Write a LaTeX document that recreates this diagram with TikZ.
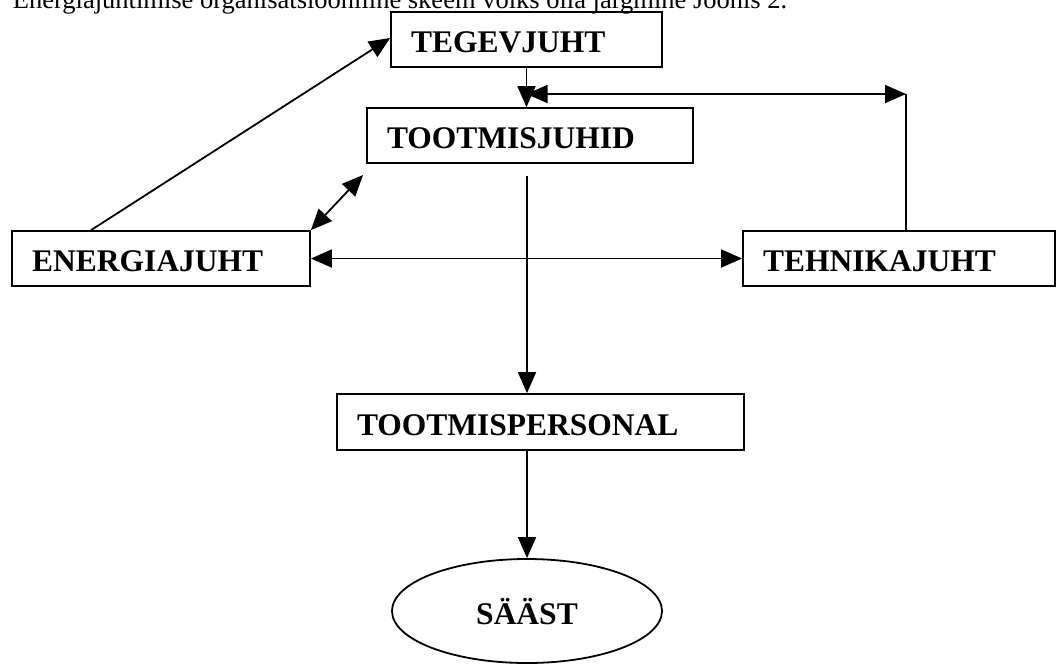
\documentclass[tikz,border=0pt]{standalone}
\usepackage{fontspec}
\setmainfont{Liberation Serif}
\usetikzlibrary{arrows.meta,shapes.geometric,calc}
\begin{document}
\begin{tikzpicture}[x=1pt,y=-1pt, line width=1.8pt,
  tip/.style={-{Triangle[length=21pt,width=18pt]}},
  dtip/.style={{Triangle[length=21pt,width=18pt]}-{Triangle[length=21pt,width=18pt]}},
  box/.style={draw, line width=1.8pt, rectangle, align=left, inner xsep=20pt, inner ysep=0pt,
    font=\fontsize{31.5}{36}\selectfont\bfseries, text height=26pt, text depth=0pt},
  oval/.style={draw, line width=1.8pt, ellipse, inner sep=0pt,
    font=\fontsize{31.5}{36}\selectfont\bfseries, text height=26pt, text depth=0pt}]
\useasboundingbox (0,0) rectangle (1056,664);
\node[anchor=base west, font=\fontsize{26.5}{30}\selectfont, inner sep=0pt] (cap) at (12,8)
  {Energiajuhtimise organisatsiooniline skeem võiks olla järgmine Joonis 2.};
\node[box, text width=231pt, minimum height=55pt] (teg) at (526.5,39.5) {TEGEVJUHT};
\node[box, text width=286pt, minimum height=55pt] (tj) at (530,135.5) {TOOTMISJUHID};
\node[box, text width=258pt, minimum height=55pt] (ej) at (161,258.5) {ENERGIAJUHT};
\node[box, text width=272pt, minimum height=55pt] (tk) at (899,258.5) {TEHNIKAJUHT};
\node[box, text width=367pt, minimum height=56pt] (tp) at (540.5,422) {TOOTMISPERSONAL};
\node[oval, minimum width=270pt, minimum height=104pt] (sa) at (527,611) {SÄÄST\hspace{26pt}};
\coordinate (c1) at (906,94);
\coordinate (d1) at (363,175);
\coordinate (v1) at (527,176);
% connectors
\draw[tip] ([xshift=80pt]ej.north west) -- ([yshift=1.5pt]teg.west);
\draw[tip] (teg.south) -- (teg.south |- tj.north);
\draw[dtip] (teg.south |- c1) -- (c1);
\draw (c1) -- (c1 |- tk.north);
\draw[dtip] (ej.north east) -- (d1);
\draw[dtip] (ej.east) -- (tk.west);
\draw[tip] (v1) -- (v1 |- tp.north);
\draw[tip] (sa.north |- tp.south) -- (sa.north);
\end{tikzpicture}
\end{document}
